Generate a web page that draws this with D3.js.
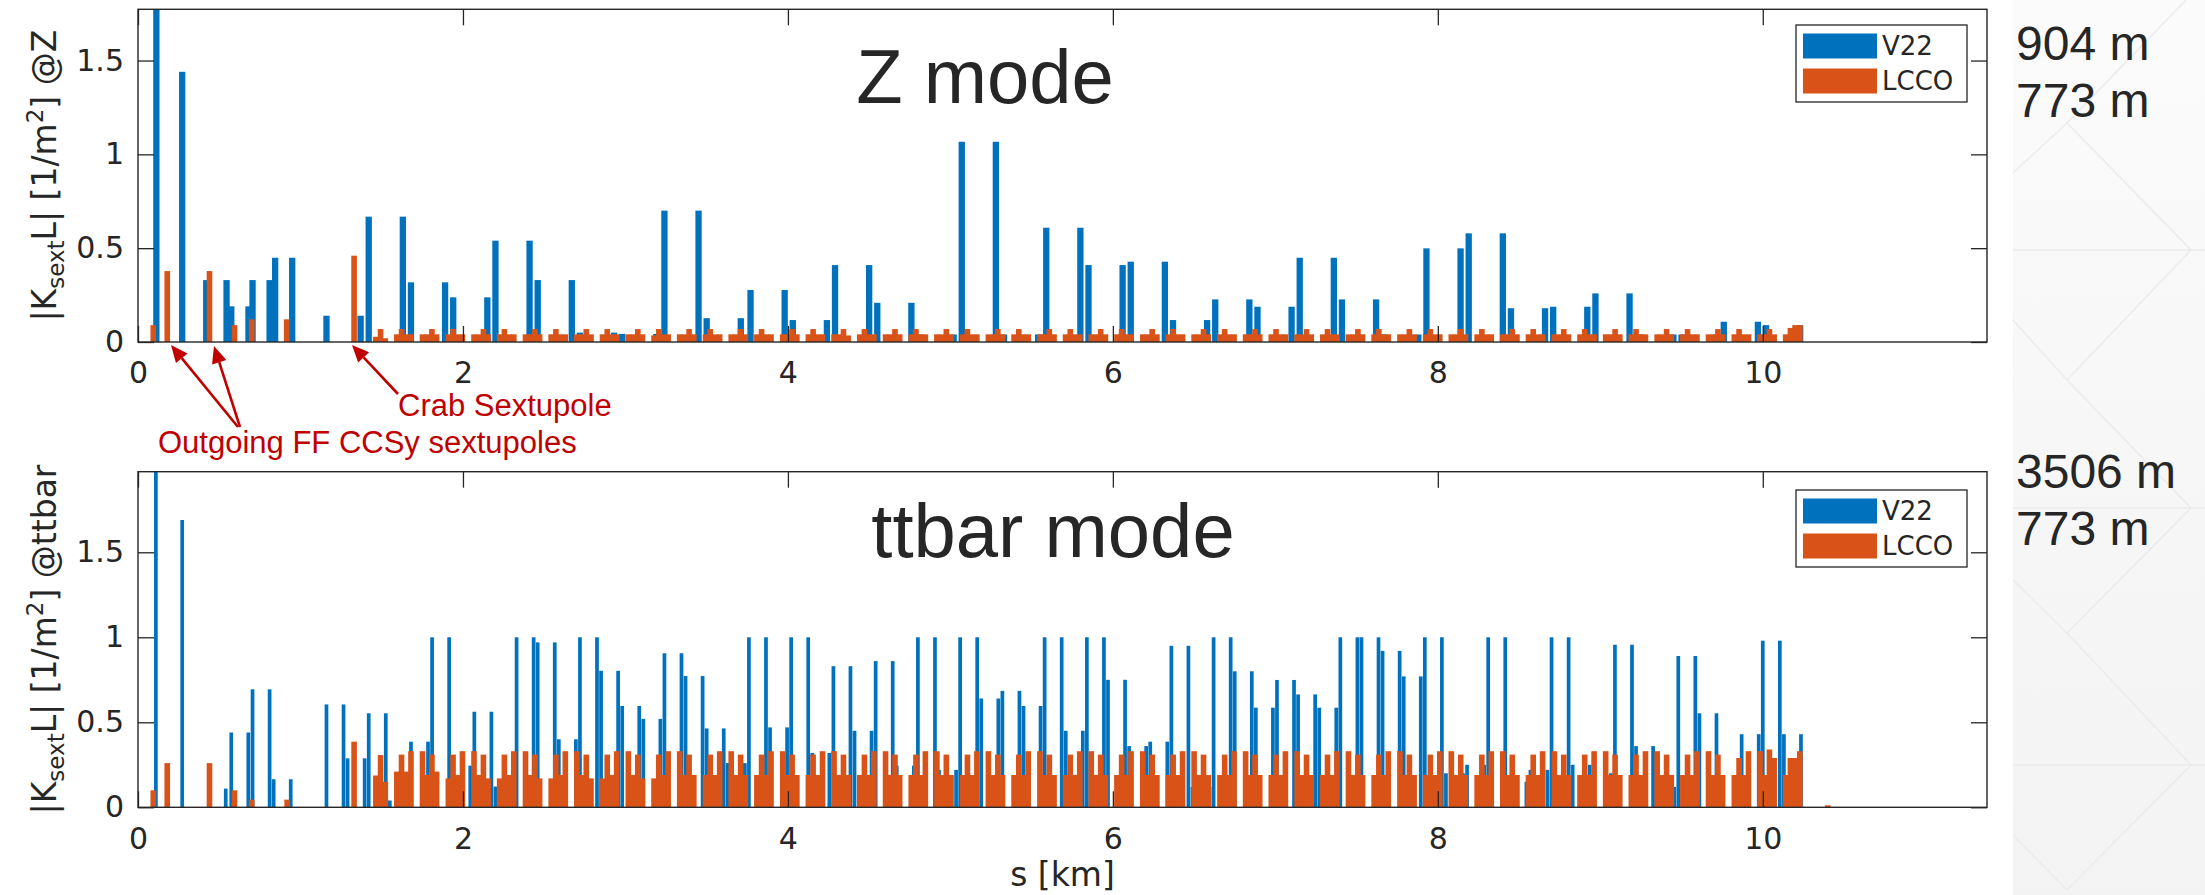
<!DOCTYPE html>
<html><head><meta charset="utf-8">
<script src="https://cdn.jsdelivr.net/npm/d3@7/dist/d3.min.js"></script>
<style>html,body{margin:0;padding:0;background:#fff;}svg{display:block;}</style>
</head><body>
<svg id="chart" width="2205" height="895"></svg>
<script>
// ---------------- DATA ----------------
const xDomain = [0, 11.38];
const xTicks = [0, 2, 4, 6, 8, 10];
const yTicks = [0, 0.5, 1, 1.5];
const seriesNames = ["V22", "LCCO"];
const modeNames = ["Z", "ttbar"];
const ringLabels = [["904 m", "773 m"], ["3506 m", "773 m"]];

// V22, Z mode: isolated bars near IP [s km, |K L|]
const zV22Single = [[0.113,1.95],[0.272,1.44],[0.42,0.33],[0.545,0.33],[0.574,0.19],[0.68,0.19],[0.705,0.33],[0.81,0.33],[0.844,0.449],[0.949,0.449]];
// V22, Z mode: arc sextupole pairs (second magnet of each pair 0.21 km downstream)
const zV22PairGap = 0.21;
const zV22PairStart = [1.16,1.42,1.68,1.94,2.20,2.46,2.72,2.98,3.24,3.50,3.77,4.03,4.29,4.55,4.81,5.07,5.33,5.59,5.85,6.11,6.37,6.63,6.89,7.15,7.41,7.67,7.93,8.19,8.45,8.71,8.97,9.24,9.50,9.76,10.02];
const zV22PairValue = [0.14,0.668,0.318,0.238,0.54,0.33,0.05,0.043,0.70,0.127,0.277,0.117,0.41,0.209,0.04,1.067,0.04,0.609,0.41,0.428,0.117,0.227,0.188,0.449,0.227,0.04,0.499,0.579,0.18,0.188,0.259,0.04,0.04,0.108,0.09];

// V22, ttbar mode
const ttV22Single = [[0.11,2.2],[0.272,1.69],[0.54,0.11]];
const ttV22PairGap = 0.105;
const ttV22Pairs = [[0.574,0.44],[0.705,0.694],[0.835,0.165],[1.16,0.605],[1.29,0.288],[1.42,0.553],[1.55,0.04],[1.68,0.386],[1.81,1.0],[1.94,0.245],[2.07,0.562],[2.20,0.122],[2.33,1.0],[2.46,0.97],[2.59,0.40],[2.72,1.0],[2.85,0.803],[2.98,0.596],[3.11,0.52],[3.24,0.906],[3.37,0.772],[3.50,0.464],[3.63,0.26],[3.76,1.0],[3.89,0.47],[4.02,1.0],[4.15,0.32],[4.28,0.83],[4.41,0.45],[4.54,0.86],[4.67,0.245],[4.80,1.0],[4.93,0.22],[5.06,1.0],[5.19,0.64],[5.32,0.685],[5.45,0.596],[5.58,1.0],[5.71,0.45],[5.84,1.0],[5.97,0.75],[6.10,0.36],[6.23,0.386],[6.36,0.95],[6.49,0.12],[6.62,1.0],[6.75,0.80],[6.88,0.586],[7.01,0.749],[7.14,0.664],[7.27,0.586],[7.40,1.0],[7.53,1.0],[7.66,0.92],[7.79,0.77],[7.92,1.0],[8.05,0.2],[8.18,0.25],[8.31,1.0],[8.44,0.15],[8.57,0.22],[8.70,1.0],[8.83,0.25],[8.96,0.2],[9.09,0.956],[9.22,0.36],[9.35,0.12],[9.48,0.89],[9.61,0.553],[9.74,0.10],[9.87,0.43],[10.00,0.98],[10.13,0.43]];

// LCCO: arc cells of four adjacent sextupoles (same lattice in both modes)
const lccoCellStart = [1.593,1.751,1.910,2.068,2.226,2.385,2.543,2.701,2.859,3.018,3.176,3.334,3.493,3.651,3.809,3.968,4.126,4.284,4.442,4.601,4.759,4.917,5.076,5.234,5.392,5.551,5.709,5.867,6.025,6.184,6.342,6.500,6.659,6.817,6.975,7.134,7.292,7.450,7.608,7.767,7.925,8.083,8.242,8.400,8.558,8.717,8.875,9.033,9.191,9.350,9.508,9.666,9.825,9.983,10.141];
const lccoCellOffset = [0, 0.029, 0.058, 0.087];

const zLCCOSingle = [[0.094,0.09],[0.18,0.378],[0.44,0.378],[0.594,0.09],[0.70,0.121],[0.915,0.121],[1.33,0.46],[1.464,0.028],[1.493,0.069],[1.522,0.02]];
const zLCCOCells = [
[0.041,0.069,0.041,0.041],[0.041,0.041,0.069,0.041],[0.041,0.069,0.041,0.041],[0.041,0.041,0.069,0.041],[0.041,0.069,0.041,0.041],
[0.041,0.041,0.069,0.041],[0.041,0.069,0.041,0.041],[0.041,0.041,0.069,0.041],[0.041,0.069,0.041,0.041],[0.041,0.041,0.069,0.041],
[0.035,0.069,0.041,0.041],[0.041,0.041,0.069,0.041],[0.041,0.069,0.041,0.041],[0.041,0.041,0.069,0.041],[0.041,0.069,0.041,0.041],
[0.041,0.041,0.069,0.041],[0.041,0.069,0.041,0.041],[0.041,0.041,0.069,0.035],[0.041,0.069,0.041,0.041],[0.041,0.041,0.069,0.041],
[0.041,0.069,0.041,0.041],[0.041,0.041,0.069,0.041],[0.041,0.069,0.041,0.041],[0.041,0.041,0.069,0.041],[0.041,0.069,0.041,0.041],
[0.041,0.041,0.069,0.041],[0.041,0.069,0.041,0.041],[0.041,0.041,0.069,0.041],[0.041,0.069,0.041,0.041],[0.041,0.041,0.069,0.041],
[0.041,0.069,0.041,0.041],[0.041,0.041,0.069,0.041],[0.041,0.069,0.041,0.041],[0.041,0.041,0.069,0.041],[0.041,0.069,0.041,0.041],
[0.041,0.041,0.069,0.041],[0.041,0.069,0.041,0.041],[0.041,0.041,0.069,0.041],[0.041,0.069,0.041,0.041],[0.041,0.041,0.069,0.041],
[0.041,0.069,0.041,0.041],[0.041,0.041,0.069,0.041],[0.041,0.069,0.041,0.041],[0.041,0.041,0.069,0.041],[0.041,0.069,0.041,0.041],
[0.041,0.041,0.069,0.041],[0.041,0.069,0.041,0.041],[0.041,0.041,0.069,0.041],[0.041,0.069,0.041,0.041],[0.041,0.041,0.069,0.041],
[0.041,0.069,0.041,0.041],[0.041,0.041,0.069,0.041],[0.041,0.069,0.041,0.041],[0.041,0.041,0.069,0.041],[0.041,0.075,0.09,0.09]
];

const ttLCCOSingle = [[0.094,0.10],[0.18,0.26],[0.44,0.26],[0.594,0.10],[0.70,0.045],[0.918,0.045],[1.33,0.386],[1.464,0.187],[1.493,0.307],[1.522,0.15],[10.40,0.012]];
const ttLCCOCells = [
[0.21,0.31,0.21,0.33],[0.33,0.19,0.31,0.21],[0.17,0.31,0.19,0.33],[0.33,0.19,0.31,0.17],[0.17,0.31,0.19,0.33],
[0.33,0.19,0.31,0.17],[0.17,0.31,0.19,0.33],[0.33,0.19,0.31,0.17],[0.17,0.31,0.19,0.33],[0.33,0.19,0.31,0.17],
[0.17,0.31,0.19,0.33],[0.33,0.19,0.31,0.19],[0.19,0.31,0.19,0.33],[0.33,0.19,0.31,0.19],[0.19,0.31,0.19,0.33],
[0.33,0.19,0.31,0.19],[0.19,0.31,0.19,0.33],[0.33,0.19,0.31,0.19],[0.19,0.31,0.19,0.33],[0.33,0.19,0.31,0.19],
[0.19,0.31,0.19,0.33],[0.33,0.19,0.31,0.19],[0.19,0.31,0.19,0.33],[0.33,0.19,0.31,0.19],[0.19,0.31,0.19,0.33],
[0.33,0.19,0.31,0.19],[0.19,0.31,0.19,0.33],[0.33,0.19,0.31,0.19],[0.19,0.31,0.19,0.33],[0.33,0.19,0.31,0.19],
[0.19,0.31,0.19,0.33],[0.33,0.19,0.31,0.19],[0.19,0.31,0.19,0.33],[0.33,0.19,0.31,0.19],[0.19,0.31,0.19,0.33],
[0.33,0.19,0.31,0.19],[0.19,0.31,0.19,0.33],[0.33,0.19,0.31,0.19],[0.19,0.31,0.19,0.33],[0.33,0.19,0.31,0.19],
[0.19,0.31,0.19,0.33],[0.33,0.19,0.31,0.19],[0.19,0.31,0.19,0.33],[0.33,0.19,0.31,0.19],[0.19,0.31,0.19,0.33],
[0.33,0.19,0.31,0.19],[0.19,0.31,0.19,0.33],[0.33,0.19,0.31,0.19],[0.19,0.31,0.19,0.33],[0.33,0.19,0.31,0.19],
[0.19,0.31,0.19,0.33],[0.33,0.19,0.31,0.19],[0.19,0.29,0.19,0.33],[0.33,0.19,0.34,0.29],[0.19,0.29,0.29,0.33]
];

// ---------------- BUILD BAR LISTS ----------------
function pairsToBars(starts, values, gap) {
  const out = [];
  starts.forEach((s, i) => { out.push({s: s, v: values[i]}); out.push({s: s + gap, v: values[i]}); });
  return out;
}
function cellsToBars(cells) {
  const out = [];
  lccoCellStart.forEach((s0, k) => lccoCellOffset.forEach((o, i) => out.push({s: s0 + o, v: cells[k][i]})));
  return out;
}
const single = a => a.map(d => ({s: d[0], v: d[1]}));

const zV22Bars = single(zV22Single).concat(pairsToBars(zV22PairStart, zV22PairValue, zV22PairGap));
const zLCCOBars = single(zLCCOSingle).concat(cellsToBars(zLCCOCells));
const ttV22Bars = single(ttV22Single).concat(pairsToBars(ttV22Pairs.map(d => d[0]), ttV22Pairs.map(d => d[1]), ttV22PairGap));
const ttLCCOBars = single(ttLCCOSingle).concat(cellsToBars(ttLCCOCells));

// ---------------- DRAW ----------------
const svg = d3.select("#chart");
const BLUE = "#0072BD", ORANGE = "#D95319", AX = "#262626", RED = "#C00000";

// slide background on the right
const defs = svg.append("defs");
const grad = defs.append("linearGradient").attr("id", "bg").attr("x1", 0).attr("y1", 0).attr("x2", 0).attr("y2", 1);
grad.append("stop").attr("offset", "0%").attr("stop-color", "#fbfbfb");
grad.append("stop").attr("offset", "100%").attr("stop-color", "#f3f3f3");
svg.append("rect").attr("x", 2013).attr("y", 0).attr("width", 192).attr("height", 895).attr("fill", "url(#bg)");
const deco = [[2013,173,2067,123],[2067,123,2186,0],[2067,123,2191,250],[2013,250,2205,250],[2013,320,2067,380],[2067,380,2191,250],
  [2067,380,2191,508],[2013,508,2205,508],[2013,580,2067,633],[2067,633,2191,508],[2067,633,2191,765],[2013,765,2205,765],
  [2013,835,2067,890],[2067,890,2191,765]];
svg.append("g").selectAll("line").data(deco).join("line")
  .attr("x1", d => d[0]).attr("y1", d => d[1]).attr("x2", d => d[2]).attr("y2", d => d[3])
  .attr("stroke", "#ebebeb").attr("stroke-width", 1.3);

const x = d3.scaleLinear().domain(xDomain).range([138, 1987]);

const panels = [
  {top: 9.3, bottom: 342, ymax: 1.773, v22: zV22Bars, lcco: zLCCOBars, v22W: 0.037, lccoW: 0.029,
   title: "Z mode", titleX: 985, titleY: 103, mode: modeNames[0], ring: ringLabels[0], ringY: [60, 117], legendY: 25, xlabel: false},
  {top: 471.7, bottom: 807.3, ymax: 1.974, v22: ttV22Bars, lcco: ttLCCOBars, v22W: 0.021, lccoW: 0.029,
   title: "ttbar mode", titleX: 1053, titleY: 557, mode: modeNames[1], ring: ringLabels[1], ringY: [488, 545], legendY: 490, xlabel: true}
];

panels.forEach((p, i) => {
  const y = d3.scaleLinear().domain([0, p.ymax]).range([p.bottom, p.top]);
  const g = svg.append("g");
  defs.append("clipPath").attr("id", "clip" + i).append("rect")
    .attr("x", x(xDomain[0])).attr("y", p.top).attr("width", x(xDomain[1]) - x(xDomain[0])).attr("height", p.bottom - p.top);
  const bars = g.append("g").attr("clip-path", `url(#clip${i})`);
  const drawBars = (data, w, color, pad) => bars.append("g").selectAll("rect").data(data).join("rect")
    .attr("x", d => x(d.s - w / 2) - pad / 2).attr("width", d => x(d.s + w / 2) - x(d.s - w / 2) + pad)
    .attr("y", d => y(d.v)).attr("height", d => y(0) - y(d.v)).attr("fill", color);
  drawBars(p.v22, p.v22W, BLUE, 0.3);
  drawBars(p.lcco, p.lccoW, ORANGE, 0.9);

  // axes (inward ticks on all four sides)
  const styleAxis = sel => {
    sel.select(".domain").remove();
    sel.selectAll(".tick line").attr("stroke", AX).attr("stroke-width", 1.3);
    sel.selectAll(".tick text").attr("fill", AX).style("font-family", "DejaVu Sans").style("font-size", "30px");
  };
  g.append("g").attr("transform", `translate(0,${p.bottom})`)
    .call(d3.axisBottom(x).tickValues(xTicks).tickSizeInner(-16).tickSizeOuter(0).tickPadding(20).tickFormat(d3.format("d"))).call(styleAxis);
  g.append("g").attr("transform", `translate(0,${p.top})`)
    .call(d3.axisTop(x).tickValues(xTicks).tickSizeInner(-16).tickSizeOuter(0).tickFormat("")).call(styleAxis);
  g.append("g").attr("transform", `translate(${x(xDomain[0])},0)`)
    .call(d3.axisLeft(y).tickValues(yTicks).tickSizeInner(-16).tickSizeOuter(0).tickPadding(14).tickFormat(d3.format("~g"))).call(styleAxis);
  g.append("g").attr("transform", `translate(${x(xDomain[1])},0)`)
    .call(d3.axisRight(y).tickValues(yTicks).tickSizeInner(-16).tickSizeOuter(0).tickFormat("")).call(styleAxis);
  g.append("rect").attr("x", x(xDomain[0])).attr("y", p.top).attr("width", x(xDomain[1]) - x(xDomain[0])).attr("height", p.bottom - p.top)
    .attr("fill", "none").attr("stroke", AX).attr("stroke-width", 1.4);

  // y label
  const yl = g.append("text").attr("transform", `translate(56,${(p.top + p.bottom) / 2}) rotate(-90)`)
    .attr("text-anchor", "middle").attr("fill", AX).style("font-family", "DejaVu Sans").style("font-size", "33px");
  yl.append("tspan").text("|K");
  yl.append("tspan").attr("dy", 8).style("font-size", "23px").text("sext");
  yl.append("tspan").attr("dy", -8).text("L| [1/m");
  yl.append("tspan").attr("dy", -13).style("font-size", "23px").text("2");
  yl.append("tspan").attr("dy", 13).text("] @" + p.mode);

  // title
  g.append("text").attr("x", p.titleX).attr("y", p.titleY).attr("text-anchor", "middle").attr("fill", AX)
    .style("font-family", "Liberation Sans").style("font-size", "76px").text(p.title);

  // legend
  const lg = g.append("g").attr("transform", `translate(1796,${p.legendY})`);
  lg.append("rect").attr("width", 171).attr("height", 77).attr("fill", "#fff").attr("stroke", AX).attr("stroke-width", 1.3);
  [BLUE, ORANGE].forEach((c, j) => {
    const cy = 21 + j * 35;
    lg.append("rect").attr("x", 7).attr("y", cy - 12.5).attr("width", 74).attr("height", 25).attr("fill", c);
    lg.append("text").attr("x", 86).attr("y", cy).attr("dominant-baseline", "central").attr("fill", AX)
      .style("font-family", "DejaVu Sans").style("font-size", "26px").text(seriesNames[j]);
  });

  // ring length labels
  p.ring.forEach((t, j) => g.append("text").attr("x", 2016).attr("y", p.ringY[j]).attr("fill", AX)
    .style("font-family", "Liberation Sans").style("font-size", "48px").text(t));

  if (p.xlabel) {
    g.append("text").attr("x", (x(xDomain[0]) + x(xDomain[1])) / 2).attr("y", 886).attr("text-anchor", "middle").attr("fill", AX)
      .style("font-family", "DejaVu Sans").style("font-size", "33px").text("s [km]");
  }
});

// annotations
function arrow(x1, y1, x2, y2) {
  const a = Math.atan2(y2 - y1, x2 - x1), L = 17, Wd = 7.5;
  const bx = x2 - L * Math.cos(a), by = y2 - L * Math.sin(a);
  svg.append("line").attr("x1", x1).attr("y1", y1).attr("x2", bx).attr("y2", by).attr("stroke", RED).attr("stroke-width", 2.6);
  svg.append("path").attr("d", `M${x2},${y2}L${bx - Wd * Math.sin(a)},${by + Wd * Math.cos(a)}L${bx + Wd * Math.sin(a)},${by - Wd * Math.cos(a)}Z`).attr("fill", RED);
}
arrow(238, 427, 171, 345);
arrow(240, 427, 214, 346);
arrow(398, 394, 352, 345);
svg.append("text").attr("x", 398).attr("y", 416).attr("fill", RED).style("font-family", "Liberation Sans").style("font-size", "31px").text("Crab Sextupole");
svg.append("text").attr("x", 158).attr("y", 453).attr("fill", RED).style("font-family", "Liberation Sans").style("font-size", "31px").text("Outgoing FF CCSy sextupoles");
</script>
</body></html>
